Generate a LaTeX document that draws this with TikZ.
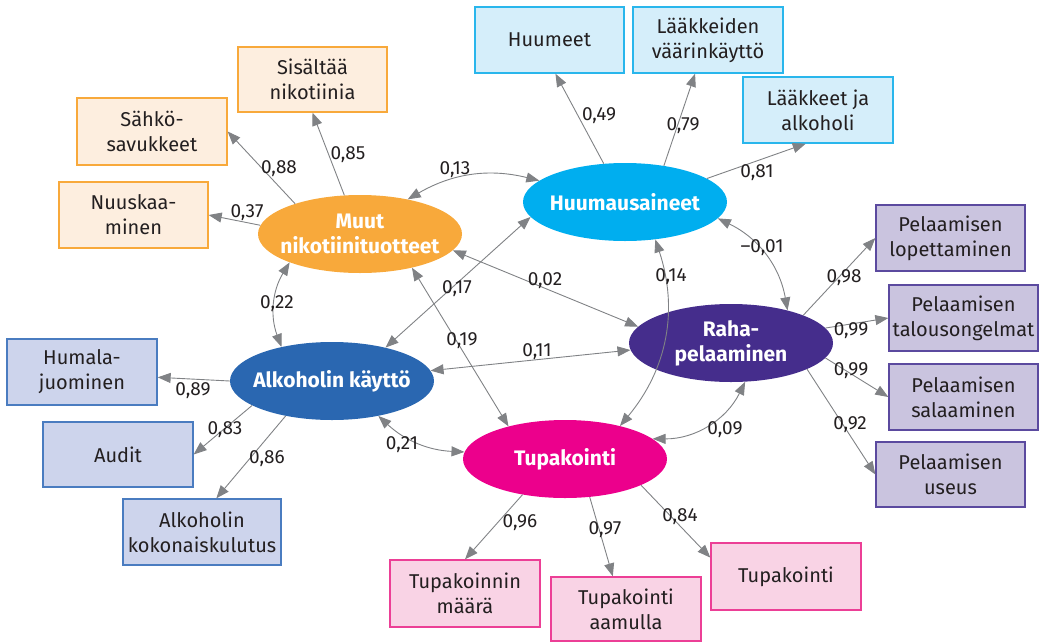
\documentclass[tikz,border=0pt]{standalone}
\usepackage{fontspec}
\setmainfont{Fira Sans}
\usetikzlibrary{arrows.meta,shapes.geometric}
\definecolor{orgF}{HTML}{F8A93B}
\definecolor{orgB}{HTML}{FDEEDF}
\definecolor{orgL}{HTML}{F8A93B}
\definecolor{cyF}{HTML}{00AEEF}
\definecolor{cyB}{HTML}{D5EEFA}
\definecolor{cyL}{HTML}{29B6EC}
\definecolor{blF}{HTML}{2A67B1}
\definecolor{blB}{HTML}{CDD4EC}
\definecolor{blL}{HTML}{4A7CC0}
\definecolor{puF}{HTML}{452D8C}
\definecolor{puB}{HTML}{CAC4DF}
\definecolor{puL}{HTML}{5B4A9F}
\definecolor{mgF}{HTML}{EC008C}
\definecolor{mgB}{HTML}{F9D3E5}
\definecolor{mgL}{HTML}{EC3F96}
\definecolor{arr}{HTML}{808285}
\definecolor{txt}{HTML}{231F20}
\tikzset{
  lat/.style={ellipse, minimum width=204pt, minimum height=78pt, inner sep=0pt},
  lattext/.style={text=white, font=\fontsize{21}{25}\selectfont\bfseries, align=center, inner sep=0pt},
  ind/.style={rectangle, minimum width=149pt, minimum height=66pt, inner sep=0pt,
    line width=1.3pt, font=\fontsize{20}{25}\selectfont, align=center, text=txt},
  ld/.style={draw=arr, line width=0.9pt, -{Triangle[length=13pt,width=10pt]}},
  cor/.style={draw=arr, line width=0.9pt, {Triangle[length=13pt,width=10pt]}-{Triangle[length=13pt,width=10pt]}},
  lab/.style={font=\fontsize{19}{22}\selectfont, inner sep=0pt, text=txt}
}
\begin{document}
\begin{tikzpicture}[x=1pt,y=1pt]
\useasboundingbox (0,0) rectangle (1043,-643);
% latent variables
\node[lat, fill=orgF, label={[lattext]center:Muut\\nikotiinituotteet}] (muut) at (360,-234) {};
\node[lat, fill=cyF, label={[lattext]center:Huumausaineet}] (huum) at (625,-202) {};
\node[lat, fill=blF, label={[lattext]center:Alkoholin käyttö}] (alk) at (332,-381) {};
\node[lat, fill=puF, label={[lattext]center:Raha-\\pelaaminen}] (raha) at (731,-343) {};
\node[lat, fill=mgF, label={[lattext]center:Tupakointi}] (tup) at (565,-459) {};
% indicators
\node[ind, fill=orgB, draw=orgL] (nuusk) at (133.5,-215) {Nuuskaa-\\minen};
\node[ind, fill=orgB, draw=orgL, minimum width=150pt, minimum height=67pt] (sahko) at (152,-131.5) {Sähkö-\\savukkeet};
\node[ind, fill=orgB, draw=orgL, minimum height=65pt] (sis) at (312.5,-79.5) {Sisältää\\nikotiinia};
\node[ind, fill=cyB, draw=cyL] (huumeet) at (549.5,-40) {Huumeet};
\node[ind, fill=cyB, draw=cyL, minimum width=150pt] (laakk) at (708,-40) {Lääkkeiden\\väärinkäyttö};
\node[ind, fill=cyB, draw=cyL, minimum width=150pt] (laakalk) at (818,-110) {Lääkkeet ja\\alkoholi};
\node[ind, fill=puB, draw=puL] (lop) at (950.5,-238) {Pelaamisen\\lopettaminen};
\node[ind, fill=puB, draw=puL] (tal) at (963.5,-318) {Pelaamisen\\talousongelmat};
\node[ind, fill=puB, draw=puL] (sal) at (963.5,-397) {Pelaamisen\\salaaminen};
\node[ind, fill=puB, draw=puL, minimum height=65pt] (use) at (950.5,-474.5) {Pelaamisen\\useus};
\node[ind, fill=blB, draw=blL, minimum width=150pt] (hum) at (82,-372) {Humala-\\juominen};
\node[ind, fill=blB, draw=blL, minimum width=150pt, minimum height=65pt] (aud) at (118,-454.5) {Audit};
\node[ind, fill=blB, draw=blL, minimum width=158pt] (kok) at (202,-532) {Alkoholin\\kokonaiskulutus};
\node[ind, fill=mgB, draw=mgL, minimum width=150pt, minimum height=67pt] (maara) at (465,-593.5) {Tupakoinnin\\määrä};
\node[ind, fill=mgB, draw=mgL, minimum width=150pt, minimum height=64pt] (aam) at (626,-609) {Tupakointi\\aamulla};
\node[ind, fill=mgB, draw=mgL, minimum width=150pt, minimum height=67pt] (tupbox) at (786,-576.5) {Tupakointi};
% loadings
\draw[ld] (muut.175) -- (nuusk.east);
\draw[ld] (muut.155) -- (sahko.east);
\draw[ld] (muut.112) -- (sis.south);
\draw[ld] (huum.119) -- (huumeet.280);
\draw[ld] (huum.43) -- (laakk.249);
\draw[ld] (huum.16) -- (laakalk.250);
\draw[ld] (raha.21) -- (lop.west);
\draw[ld] (raha.9) -- (tal.west);
\draw[ld] (raha.351) -- (sal.west);
\draw[ld] (raha.341) -- (use.west);
\draw[ld] (alk.180) -- (hum.356);
\draw[ld] (alk.197) -- (aud.east);
\draw[ld] (alk.217) -- (kok.67);
\draw[ld] (tup.220) -- (maara.north);
\draw[ld] (tup.303) -- (aam.112);
\draw[ld] (tup.341) -- (tupbox.166);
% correlations
\draw[cor] (muut.36) to[bend left=22] (huum.166);
\draw[cor] (muut.202) to[bend right=26] (alk.146);
\draw[cor] (muut.350) -- (raha.170);
\draw[cor] (muut.327) -- (tup.150);
\draw[cor] (alk.32) -- (huum.189);
\draw[cor] (alk.6) -- (raha.184);
\draw[cor] (alk.323) to[bend right=20] (tup.176);
\draw[cor] (huum.350) to[bend left=27] (raha.30);
\draw[cor] (huum.309) to[bend left=29] (tup.31);
\draw[cor] (raha.290) to[bend left=32] (tup.13);
% labels
\node[lab] (l37) at (247,-213) {0,37};
\node[lab] (l88) at (279,-169) {0,88};
\node[lab] (l85) at (348,-155) {0,85};
\node[lab] (l49) at (599,-116) {0,49};
\node[lab] (l79) at (683,-126) {0,79};
\node[lab] (l81) at (757,-173) {0,81};
\node[lab] (l13) at (455,-170) {0,13};
\node[lab] (l01) at (762,-248) {–0,01};
\node[lab] (l14) at (671,-277) {0,14};
\node[lab] (l98) at (844,-278) {0,98};
\node[lab] (l99a) at (851,-331) {0,99};
\node[lab] (l99b) at (851,-371) {0,99};
\node[lab] (l92) at (850,-425) {0,92};
\node[lab] (l09) at (725,-430) {0,09};
\node[lab] (l89) at (193,-391) {0,89};
\node[lab] (l83) at (225,-430) {0,83};
\node[lab] (l86) at (267,-459) {0,86};
\node[lab] (l21) at (402,-445) {0,21};
\node[lab] (l22) at (277,-304) {0,22};
\node[lab] (l17) at (457,-289) {0,17};
\node[lab] (l02) at (545,-281) {0,02};
\node[lab] (l19) at (462,-341) {0,19};
\node[lab] (l11) at (537,-352) {0,11};
\node[lab] (l96) at (520,-523) {0,96};
\node[lab] (l97) at (605,-530) {0,97};
\node[lab] (l84) at (680,-517) {0,84};
\end{tikzpicture}
\end{document}
